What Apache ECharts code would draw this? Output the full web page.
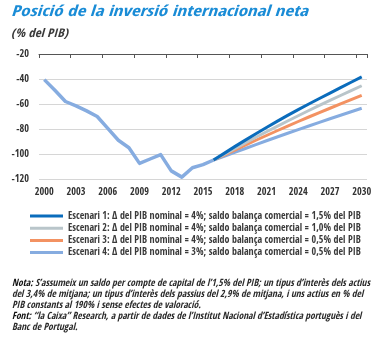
<!DOCTYPE html>
<html><head><meta charset="utf-8">
<script src="https://cdn.jsdelivr.net/npm/echarts@6/dist/echarts.min.js"></script>
<style>html,body{margin:0;padding:0;background:#fff}#c{width:380px;height:338px}</style>
</head><body><div id="c"></div>
<script>
const years = ['2000','2001','2002','2003','2004','2005','2006','2007','2008','2009','2010','2011','2012','2013','2014','2015',
  '2016','2017','2018','2019','2020','2021','2022','2023','2024','2025','2026','2027','2028','2029','2030'];
const historic = [-40.5,-49,-58,-61.5,-65.5,-70,-79.5,-89,-95,-107.5,-104,-100.5,-113.5,-118.5,-111,-108.5,-104.8];
const projYears = ['2016','2017','2018','2019','2020','2021','2022','2023','2024','2025','2026','2027','2028','2029','2030'];
const scen1 = [-104.8,-99.5,-94.1,-88.9,-83.8,-78.8,-73.9,-69.1,-64.5,-60.0,-55.6,-51.3,-46.9,-42.6,-38.3];
const scen2 = [-104.8,-100.3,-95.7,-91.1,-86.6,-82.2,-77.9,-73.6,-69.4,-65.2,-61.1,-57.1,-53.2,-49.3,-45.4];
const scen3 = [-104.8,-100.9,-96.9,-92.9,-89.0,-85.2,-81.4,-77.7,-74.0,-70.4,-66.9,-63.4,-59.9,-56.5,-53.1];
const scen4 = [-104.8,-101.8,-98.7,-95.6,-92.5,-89.4,-86.4,-83.4,-80.5,-77.6,-74.7,-71.8,-69.0,-66.2,-63.4];
const names = [
  'Escenari 1: Δ del PIB nominal = 4%; saldo balança comercial = 1,5% del PIB',
  'Escenari 2: Δ del PIB nominal = 4%; saldo balança comercial = 1,0% del PIB',
  'Escenari 3: Δ del PIB nominal = 4%; saldo balança comercial = 0,5% del PIB',
  'Escenari 4: Δ del PIB nominal = 3%; saldo balança comercial = 0,5% del PIB'
];
const colors = ['#0a6cbc','#b9c5ca','#f39262','#86ace0'];
const histColor = '#86ace0';
const titleText = 'Posició de la inversió internacional neta';
const subText = '(% del PIB)';
const notes = [
  ['Nota:', ' S’assumeix un saldo per compte de capital de l’1,5% del PIB; un tipus d’interès dels actius'],
  ['', 'del 3,4% de mitjana; un tipus d’interès dels passius del 2,9% de mitjana, i uns actius en % del'],
  ['', 'PIB constants al 190% i sense efectes de valoració.'],
  ['Font:', ' “la Caixa” Research, a partir de dades de l’Institut Nacional d’Estadística portuguès i del'],
  ['', 'Banc de Portugal.']
];

const cx = document.createElement('canvas').getContext('2d');
function rawW(s, f){ cx.font = f; return cx.measureText(s).width; }
const cands = ['Liberation Sans Narrow','DejaVu Sans Condensed','Roboto Condensed','Open Sans Condensed','Arial Narrow','Lato','Roboto','Liberation Sans'];
const probe = 'abcdefghijklmnopqrstuvwxyzWMi0123';
function installed(f){
  return rawW(probe, "40px '"+f+"', monospace") !== rawW(probe, '40px monospace') ||
         rawW(probe, "40px '"+f+"', serif") !== rawW(probe, '40px serif');
}
let best = 'Liberation Sans', bestW = Infinity;
cands.forEach(f => { if (installed(f)) { const w = rawW(names[0], "10px '"+f+"'"); if (w < bestW) { bestW = w; best = f; } } });
const FN = "'" + best + "','Liberation Sans',Arial,sans-serif";
function tw(s, f){ return rawW(s, f + ' ' + FN); }

function alignYear(arr){
  const m = {}; projYears.forEach((y,i)=>m[y]=arr[i]);
  return years.map(y => (y in m) ? m[y] : null);
}
const histFull = years.map((y,i)=> i < historic.length ? historic[i] : null);

const titleScale = 297 / tw(titleText, 'italic bold 15px');
const subScale = 57 / tw(subText, 'italic 12px');
const noteScale = 358 / (tw(notes[0][0], 'italic bold 10px') + tw(notes[0][1], 'italic 10px'));
const legFs = Math.min(10.5, 10 * 293 / tw(names[0], '10px'));
const axFs = Math.min(10.5, 10 * 19 / tw('2000', '10px'));

const noteY = [283.8, 294.6, 305.4, 316.2, 327];
const graphics = [
  {type:'text', x:11, y:12.5, scaleX:titleScale, style:{x:0,y:0,text:titleText, font:'italic bold 15px '+FN, fill:'#1a8cd6', verticalAlign:'middle'}},
  {type:'text', x:11, y:33.5, scaleX:subScale, style:{x:0,y:0,text:subText, font:'italic 12px '+FN, fill:'#3a3a3a', verticalAlign:'middle'}}
];
notes.forEach((n,i)=>{
  graphics.push({type:'text', x:12, y:noteY[i], scaleX:noteScale, style:{
    x:0, y:0, verticalAlign:'middle',
    text: (n[0] ? '{b|'+n[0]+'}' : '') + '{r|'+n[1]+'}',
    rich:{ b:{font:'italic bold 10px '+FN, fill:'#111'}, r:{font:'italic 10px '+FN, fill:'#2a2a2a'} }
  }});
});

const series = [
  {name:'hist', type:'line', data:histFull, symbol:'none', lineStyle:{color:histColor, width:3.5, join:'round'}, z:2},
];
const sc = [scen1, scen2, scen3, scen4];
for (let k = 3; k >= 0; k--) {
  series.push({name:names[k], type:'line', data:alignYear(sc[k]), symbol:'none',
    itemStyle:{color:colors[k]}, lineStyle:{color:colors[k], width:3, join:'round'}, z:3+(3-k)});
}

const chart = echarts.init(document.getElementById('c'), null, {renderer:'canvas'});
chart.setOption({
  animation:false,
  backgroundColor:'#fff',
  grid:{left:39, right:13, top:54, height:125, containLabel:false},
  xAxis:[
    {type:'category', data:years, position:'bottom', boundaryGap:true,
     axisLine:{show:false}, axisTick:{show:false},
     axisLabel:{interval:2, margin:8, color:'#333', fontSize:axFs, fontFamily:FN}},
    {type:'category', data:years, position:'top', boundaryGap:true,
     axisLine:{show:true, lineStyle:{color:'#555', width:1}},
     axisTick:{show:true, inside:true, length:4, interval:2, lineStyle:{color:'#555'}},
     axisLabel:{show:false}}
  ],
  yAxis:{type:'value', min:-120, max:-20, interval:20,
    axisLine:{show:false}, axisTick:{show:false},
    splitLine:{lineStyle:{color:'#d6d6d6', width:1}},
    axisLabel:{margin:10, color:'#333', fontSize:axFs, fontFamily:FN}},
  legend:{data:names, orient:'vertical', left:30, top:210, itemWidth:33, itemHeight:3, itemGap:0.2,
    icon:'rect', padding:0,
    textStyle:{fontSize:legFs, fontFamily:FN, color:'#3a3a3a', lineHeight:12}},
  graphic:graphics,
  series:series
});
</script></body></html>
